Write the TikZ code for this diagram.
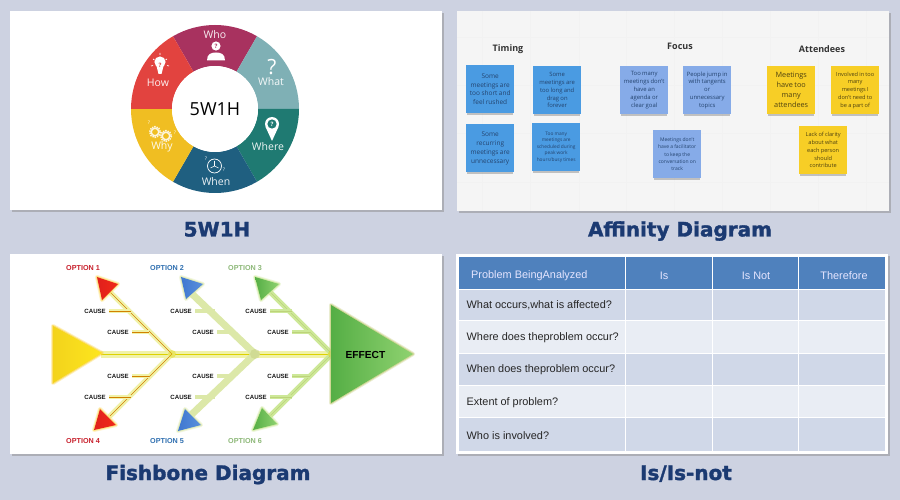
\documentclass[tikz,border=0pt]{standalone}
\usepackage{fontspec}
\setmainfont{Open Sans}
\newfontfamily\arialf{Liberation Sans}
\newfontfamily\titlef[FakeBold=1.6]{DejaVu Sans Bold}
\usetikzlibrary{calc}
\newcommand\fsz[2]{\fontsize{#1}{#2}\selectfont\spaceskip=.22em\relax}
\newcommand\fst[2]{\fontsize{#1}{#2}\selectfont}
\definecolor{pagebg}{HTML}{CDD2E1}
\definecolor{titleblue}{HTML}{1B3A72}
\definecolor{whoC}{HTML}{A8325F}
\definecolor{whatC}{HTML}{7FB0B5}
\definecolor{whereC}{HTML}{1F7A72}
\definecolor{whenC}{HTML}{1F5F80}
\definecolor{whyC}{HTML}{F0BE22}
\definecolor{howC}{HTML}{E2433F}
\definecolor{stickA}{HTML}{4A9BE2}
\definecolor{stickB}{HTML}{86ABE8}
\definecolor{stickC}{HTML}{F7CE26}
\definecolor{stickTxtB}{HTML}{24446F}
\definecolor{stickTxtY}{HTML}{4F4210}
\definecolor{tblHead}{HTML}{4F81BD}
\definecolor{tblDark}{HTML}{D0D8E8}
\definecolor{tblLight}{HTML}{E9EDF4}
\definecolor{glowY}{HTML}{F0F2A8}
\definecolor{glowG}{HTML}{DCE8A8}
\definecolor{glowL}{HTML}{CDE898}
\definecolor{triY}{HTML}{F3D31C}
\definecolor{triYb}{HTML}{FDE61E}
\definecolor{triR}{HTML}{E0201C}
\definecolor{triRb}{HTML}{F02A18}
\definecolor{triB}{HTML}{3F78D0}
\definecolor{triBb}{HTML}{5A90DC}
\definecolor{triG}{HTML}{55AE45}
\definecolor{triGb}{HTML}{8FD270}
\definecolor{optG}{HTML}{8DB878}
\definecolor{optB}{HTML}{2F6FB0}
\definecolor{optR}{HTML}{C8202C}
\tikzset{
  panel/.style={fill=white,draw=none},
  shadowbox/.style={fill=black!45,draw=none,opacity=.5},
  figtitle/.style={font=\titlef\fst{20}{20},text=titleblue,inner sep=0pt,anchor=base},
  wlabel/.style={font=\fst{10.5}{11},text=white,inner sep=0pt,opacity=.92},
  heading/.style={font=\bfseries\fst{9}{9},text=black!80,inner sep=0pt},
  sticky/.style={minimum width=48pt,minimum height=48pt,inner sep=0pt,align=center,draw=none},
  causel/.style={font=\arialf\bfseries\fst{6.1}{7},text=black!90,inner sep=0pt,anchor=east},
  optl/.style={font=\arialf\bfseries\fst{7.2}{7},inner sep=0pt},
  rowtxt/.style={font=\arialf\fst{10.9}{12},text=black!85,inner sep=0pt,anchor=west},
  headtxt/.style={font=\arialf\fst{10.9}{12},text=white!90!blue,inner sep=0pt},
  griddy/.style={draw=black!5,line width=.6pt},
}
\begin{document}
\begin{tikzpicture}[x=1pt,y=-1pt]
\useasboundingbox (0,0) rectangle (900,500);
\fill[pagebg] (0,0) rectangle (900,500);

% ---- panel shadows and panels
\fill[shadowbox] (12,13) rectangle (444,212);
\fill[panel] (10,11) rectangle (442,210);
\fill[shadowbox] (459,13) rectangle (891,213);
\fill[black!4] (457,11) rectangle (889,211);
\fill[shadowbox] (12,256) rectangle (444,456);
\fill[panel] (10,254) rectangle (442,454);
\fill[shadowbox] (458,256) rectangle (890,456);
\fill[panel] (456,254) rectangle (888,454);

% ---- 5W1H wheel
\begin{scope}[shift={(215,109)},y=1pt]
\foreach \a/\b/\c in {60/120/whoC,0/60/whatC,-60/0/whereC,-120/-60/whenC,180/240/whyC,120/180/howC}{
  \fill[\c] (\a:84) arc[start angle=\a,end angle=\b,radius=84] -- (\b:43) arc[start angle=\b,end angle=\a,radius=43] -- cycle;
}
\fill[white] (0,0) circle[radius=43];
\end{scope}
\node[inner sep=0pt,font=\fst{18}{19},text=black] (wheelc) at (215,109) {5W1H};
\node[wlabel] (who) at (215,35) {Who};
\node[wlabel] (what) at (271,82) {What};
\node[wlabel] (where) at (268,147) {Where};
\node[wlabel] (when) at (216,182) {When};
\node[wlabel] (why) at (162,147) {Why};
\node[wlabel] (how) at (158,83) {How};
% who icon
\fill[white] (216,46) circle[radius=4.6];
\node[inner sep=0pt,font=\bfseries\fst{6}{6},text=whoC] at (216,46) {?};
\fill[white] (207,60.5) .. controls (207,54) and (211,52.5) .. (216,52.5) .. controls (221,52.5) and (225,54) .. (225,60.5) -- cycle;
% what icon
\node[inner sep=0pt,font=\fst{21}{21},text=white] at (272,67) {?};
% where icon
\fill[white] (265.6,127) -- (272,141) -- (278.4,127) -- cycle;
\fill[white] (272,124) circle[radius=7];
\fill[whereC] (272,124) circle[radius=4.6];
\node[inner sep=0pt,font=\bfseries\fst{6}{6},text=white] at (272,124) {?};
% when icon
\draw[white,line width=.7pt] (214.5,166) circle[radius=7];
\draw[white,line width=.6pt] (214.5,161) -- (214.5,166) -- (218.5,168) (214.5,166) -- (210.5,168);
\node[inner sep=0pt,font=\fst{5}{5},text=white] at (206,158.5) {?};
\node[inner sep=0pt,font=\fst{5}{5},text=white] at (224,170) {?};
% why icon
\foreach \gx/\gy in {155/132,166/136}{
  \draw[white!85!whyC,line width=1.5pt,dash pattern=on 1.4pt off 1pt] (\gx,\gy) circle[radius=5.4];
  \draw[white!85!whyC,line width=1.5pt] (\gx,\gy) circle[radius=3.8];
}
\node[inner sep=0pt,font=\fst{5}{5},text=white] at (149,123) {?};
\node[inner sep=0pt,font=\fst{5}{5},text=white] at (175,133) {?};
% how icon
\fill[white] (160,62) circle[radius=5.6];
\fill[white] (156.5,66) -- (163.5,66) -- (161.5,74) -- (158.5,74) -- cycle;
\node[inner sep=0pt,font=\bfseries\fst{6}{6},text=howC] at (160,65) {?};
\draw[white,line width=.7pt] (151,66) -- (153,65.5) (169,66) -- (167,65.5) (153,59) -- (154.5,60) (167,59) -- (165.5,60) (160,53) -- (160,55);

\node[figtitle] (t1) at (217,236.5) {5W1H};

% ---- Affinity
\foreach \gx in {482,530,579,626,674,722,770,818,866}{\draw[griddy] (\gx,11) -- (\gx,211);}
\foreach \gy in {37,85,133,182}{\draw[griddy] (457,\gy) -- (889,\gy);}
\node[heading] (h1) at (508,49) {Timing};
\node[heading] (h2) at (680,46) {Focus};
\node[heading] (h3) at (822,49) {Attendees};
\newcommand\stick[8]{% name,x,y,colour,textcolour,size,leading,text
  \fill[black!50,opacity=.45] (#2+1,#3+2) rectangle (#2+47,#3+50.5);
  \node[sticky,fill=#4,text=#5,anchor=north west,font=\fsz{#6}{#7}] (#1) at (#2,#3) {#8};
}
\stick{s1}{466}{65}{stickA}{stickTxtB}{6.5}{8.6}{Some\\meetings are\\too short and\\feel rushed}
\stick{s2}{533}{66}{stickA}{stickTxtB}{5.9}{7.8}{Some\\meetings are\\too long and\\drag on\\forever}
\stick{s3}{466}{124}{stickA}{stickTxtB}{6.5}{9}{Some\\recurring\\meetings are\\unnecessary}
\stick{s4}{532}{123}{stickA}{stickTxtB}{4.8}{6.5}{Too many\\meetings are\\scheduled during\\peak work\\hours/busy times}
\stick{s5}{620}{66}{stickB}{stickTxtB}{5.9}{7.8}{Too many\\meetings don't\\have an\\agenda or\\clear goal}
\stick{s6}{653}{130}{stickB}{stickTxtB}{5}{7.2}{Meetings don't\\have a facilitator\\to keep the\\conversation on\\track}
\stick{s7}{683}{66}{stickB}{stickTxtB}{5.9}{7.8}{People jump in\\with tangents\\or\\unnecessary\\topics}
\stick{s8}{767}{66}{stickC}{stickTxtY}{7.3}{10}{Meetings\\have too\\many\\attendees}
\stick{s9}{831}{66}{stickC}{stickTxtY}{5.6}{7.8}{Involved in too\\many\\meetings I\\don't need to\\be a part of}
\stick{s10}{799}{126}{stickC}{stickTxtY}{5.6}{7.8}{Lack of clarity\\about what\\each person\\should\\contribute}
\node[figtitle] (t2) at (680,236.5) {Affinity Diagram};

% ---- Fishbone
\coordinate (joint1) at (172,354);
\coordinate (joint2) at (255,354);
\coordinate (joint3) at (332,354);
\coordinate (tail) at (101,354);
\foreach \n/\ex in {1/110,2/190,3/270}{
  \coordinate (top\n) at (\ex,292);
  \coordinate (bot\n) at (\ex,416);
}
% spine
\draw[glowY,line width=7pt] (tail) -- (joint3);
\draw[yellow!70!olive,line width=.5pt] (tail) -- (joint3);
% bones
\foreach \n/\col/\w/\core in {1/glowY/5/orange!65!olive,2/glowG/7/glowG,3/glowL/5/glowL!80!olive}{
  \draw[\col,line width=\w pt,line cap=round] (top\n) -- (joint\n) -- (bot\n);
  \draw[\core,line width=.6pt] (top\n) -- (joint\n) -- (bot\n);
}
\fill[yellow!70!olive,opacity=.4] (joint1) circle[radius=4];
\fill[glowG!80!olive,opacity=.6] (joint2) circle[radius=5];
\fill[yellow!80!olive,opacity=.6] (joint3) circle[radius=4];
% triangles
\newcommand\tri[7]{% name, 3 points, colour a, colour b, glow
  \draw[#7,line width=4pt,line join=round,opacity=.35] #2 -- #3 -- #4 -- cycle;
  \draw[#7,line width=2pt,line join=round,opacity=.7] #2 -- #3 -- #4 -- cycle;
  \shade[left color=#5,right color=#6] #2 -- #3 -- #4 -- cycle;
}
\tri{tailtri}{(53,326)}{(102,353)}{(53,383)}{triY}{triYb}{yellow!60!orange!70!white}
\tri{r1}{(97,277)}{(118,284)}{(102,300)}{triR}{triRb}{yellow!60!orange!60!white}
\tri{r2}{(100,409)}{(116,425)}{(94,430)}{triR}{triRb}{yellow!60!orange!60!white}
\tri{b1}{(181,277)}{(203,284)}{(186,299)}{triB}{triBb}{glowG}
\tri{b2}{(185,409)}{(201,425)}{(178,431)}{triB}{triBb}{glowG}
\tri{g1}{(255,277)}{(279,284)}{(261,300)}{triG}{triGb}{glowL}
\tri{g2}{(262,408)}{(277,424)}{(253,430)}{triG}{triGb}{glowL}
\tri{efftri}{(331,305)}{(413,354)}{(331,403)}{triG}{triGb}{glowG!75!olive}
\node[inner sep=0pt,font=\arialf\bfseries\fst{10.2}{11},text=black] (effect) at (365.5,355) {EFFECT};
% options
\foreach \n/\x/\y/\t/\c in {o1/83/268/OPTION 1/optR,o2/167/268/OPTION 2/optB,o3/245/268/OPTION 3/optG,o4/83/441/OPTION 4/optR,o5/167/441/OPTION 5/optB,o6/245/441/OPTION 6/optG}{
  \node[optl,text=\c] (\n) at (\x,\y) {\t};
}
% causes
\foreach \n/\lx/\bx/\y/\glow/\core in {
  a/106/131/311/glowY/orange!65!olive,
  b/129/149/332/glowY/orange!65!olive,
  c/129/149/376/glowY/orange!65!olive,
  d/106/131/397/glowY/orange!65!olive,
  e/192/215/311/glowG/glowG,
  f/214/232/332/glowG/glowG,
  g/214/232/376/glowG/glowG,
  h/192/215/397/glowG/glowG,
  i/267/292/311/glowL/glowL!80!olive,
  j/289/310/332/glowL/glowL!80!olive,
  k/289/310/376/glowL/glowL!80!olive,
  l/267/292/397/glowL/glowL!80!olive}{
  \node[causel] (cause\n) at (\lx,\y) {CAUSE};
  \coordinate (tick\n) at (\bx,\y);
  \draw[\glow,line width=3.5pt] ([xshift=3pt]cause\n.east) -- (tick\n);
  \draw[\core,line width=.6pt] ([xshift=3pt]cause\n.east) -- (tick\n);
}
\node[figtitle] (t3) at (208,480) {Fishbone Diagram};

% ---- Is / Is-not table
\foreach \cx/\w in {459/166,625.5/86.5,712.5/86,799/86}{
  \fill[tblHead] (\cx,257) rectangle (\cx+\w-.5,288.7);
  \foreach \ry/\rh/\rc in {289.5/31/tblDark,321/32.5/tblLight,354/31.5/tblDark,386/31.5/tblLight,418/33/tblDark}{
    \fill[\rc] (\cx,\ry) rectangle (\cx+\w-.5,\ry+\rh-.5);
  }
}
\node[headtxt,anchor=west] (th1) at (471,275.5) {Problem BeingAnalyzed};
\node[headtxt] (th2) at (664,275.5) {Is};
\node[headtxt] (th3) at (756,275.5) {Is Not};
\node[headtxt] (th4) at (844,275.5) {Therefore};
\node[rowtxt] (r1t) at (466.5,305.5) {What occurs,what is affected?};
\node[rowtxt] (r2t) at (466.5,338) {Where does theproblem occur?};
\node[rowtxt] (r3t) at (466.5,370) {When does theproblem occur?};
\node[rowtxt] (r4t) at (466.5,403) {Extent of problem?};
\node[rowtxt] (r5t) at (466.5,436) {Who is involved?};
\node[figtitle] (t4) at (686,480) {Is/Is-not};
\end{tikzpicture}
\end{document}
